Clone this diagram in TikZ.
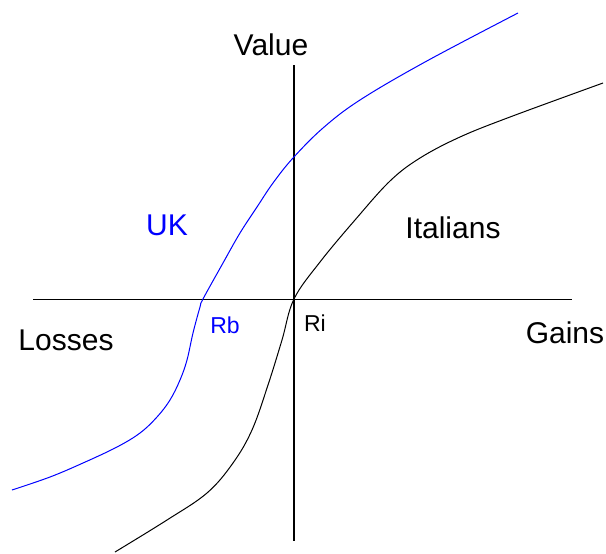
\documentclass[tikz,border=0pt]{standalone}
\usepackage{fontspec}
\setmainfont{Liberation Sans}
\tikzset{
  lbl/.style={inner sep=0pt,font=\fontsize{15}{18}\selectfont},
  sml/.style={inner sep=0pt,font=\fontsize{11.5}{14}\selectfont},
  axis/.style={line width=0.7pt},
  curve/.style={line width=0.5pt}
}
\begin{document}
\begin{tikzpicture}[x=0.5pt,y=-0.5pt]
\useasboundingbox (0,0) rectangle (606,553);
% axes
\draw[axis] (33,299.5) -- (572,299.5);
\draw[axis] (294,65) -- (294,541);
% Italians curve
\draw[curve] plot[smooth,tension=0.6] coordinates {(115,552) (167,520) (207,493) (233,463) (252,430) (268,385) (282,340) (294,299) (320,262) (355,220) (390,181) (420,158) (460,137) (510,117) (603,83)};
% UK curve
\draw[curve,blue] plot[smooth,tension=0.6] coordinates {(12,490) (50,477) (83,463) (117,447) (140,433) (157,417) (170,400) (180,380) (187,360) (193,333) (200,307) (203,299) (223,263) (240,233) (257,207) (273,183) (293,158) (323,128) (360,100) (425,62) (518,13)};
% labels
\node[lbl] (value) at (271,45) {Value};
\node[lbl] (losses) at (66,340) {Losses};
\node[lbl] (gains) at (565,333) {Gains};
\node[lbl] (italians) at (453,228) {Italians};
\node[lbl,blue] (uk) at (167,225) {UK};
\node[sml,blue] (rb) at (225,325) {Rb};
\node[sml] (ri) at (315,323) {Ri};
\end{tikzpicture}
\end{document}
